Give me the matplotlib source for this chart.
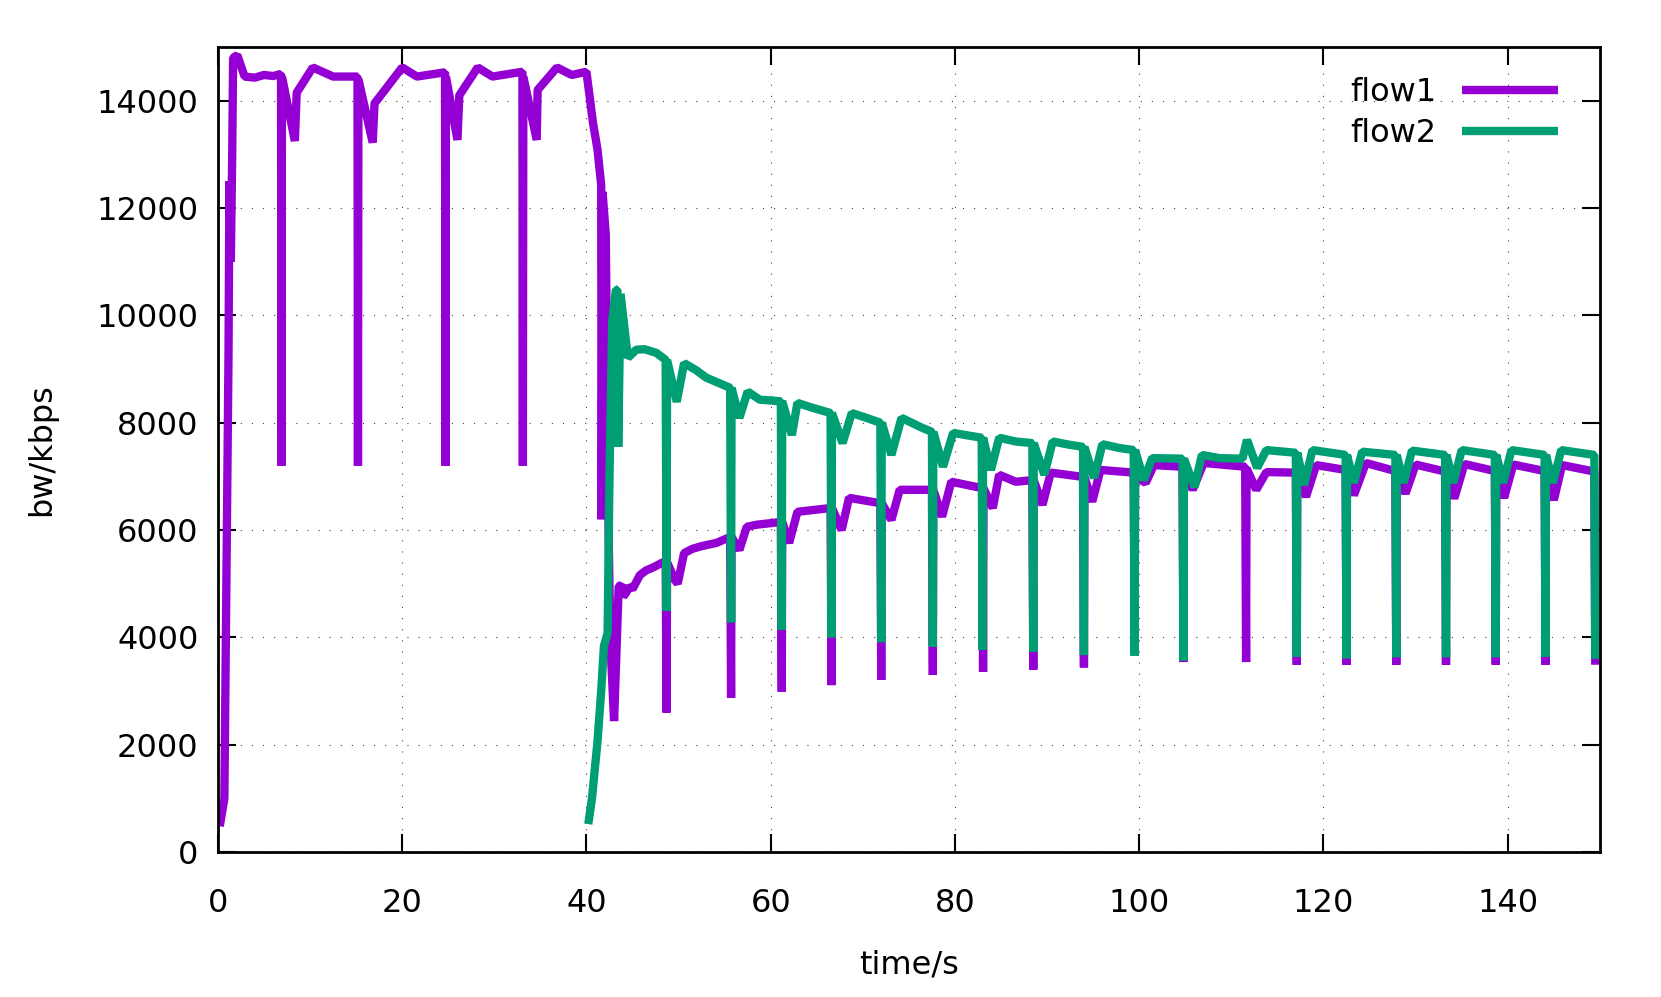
import matplotlib.pyplot as plt
import numpy as np

plt.rcParams["font.family"] = "DejaVu Sans"

# ============================
# data: flow1 (time s, bw kbps)
# ============================
flow1_t = [
    0.2, 0.7, 1.0, 1.15, 1.25, 1.4, 1.55, 1.65, 2.1, 2.9, 4.0, 5.0, 6.0, 6.85,
    6.9, 6.95, 8.35, 8.55, 10.3, 12.5, 15.15,
    15.2, 15.25, 16.8, 17.0, 20.0, 21.6, 24.65,
    24.7, 24.75, 26.0, 26.2, 28.2, 29.8, 33.05,
    33.1, 33.15, 34.6, 34.7, 36.8, 38.4, 40.0,
    40.7, 41.2, 41.6, 41.65, 41.75, 42.1, 42.4, 42.6, 43.0, 43.5, 43.8, 44.0,
    44.3, 44.6, 45.0, 45.8, 46.5, 47.2, 48.2, 48.6,
    48.7, 48.75, 49.6, 49.9, 50.6, 51.5, 52.5, 54.1, 55.6,
    55.7, 55.75, 56.6, 57.4, 58.5, 61.1,
    61.2, 61.25, 62.0, 62.9, 66.5,
    66.6, 66.65, 67.7, 68.5, 71.9,
    72.0, 72.05, 73.1, 74.0, 77.5,
    77.6, 77.65, 78.6, 79.6, 83.0,
    83.05, 83.1, 84.1, 84.8, 86.6, 88.4,
    88.5, 88.55, 89.5, 90.4, 93.9,
    94.0, 94.05, 94.9, 95.8, 99.4,
    99.5, 99.55, 100.7, 101.6, 104.7,
    104.8, 104.85, 105.8, 107.0, 111.5,
    111.6, 111.65, 112.7, 113.8, 117.0,
    117.1, 117.15, 118.1, 119.2, 122.4,
    122.5, 122.55, 123.3, 124.6, 127.8,
    127.9, 127.95, 128.9, 130.0, 133.2,
    133.3, 133.35, 134.2, 135.3, 138.6,
    138.7, 138.75, 139.6, 140.6, 144.0,
    144.1, 144.15, 145.0, 145.9, 149.4,
    149.5,
]
flow1_bw = [
    480, 1000, 6500, 9300, 12500, 11000, 13000, 14800, 14850, 14450, 14430, 14480, 14460, 14500,
    7200, 14450, 13250, 14150, 14620, 14450, 14450,
    7200, 14400, 13220, 13950, 14620, 14450, 14530,
    7200, 14450, 13270, 14100, 14620, 14450, 14540,
    7200, 14450, 13270, 14200, 14620, 14480, 14540,
    13600, 13090, 12430, 6200, 12300, 11500, 6000, 3900, 2440, 4950, 4980, 4760,
    4830, 4950, 4900, 5160, 5250, 5300, 5390, 5420,
    2600, 5400, 5070, 5000, 5570, 5650, 5700, 5760, 5870,
    2870, 5870, 5630, 6060, 6100, 6150,
    2990, 6150, 5760, 6340, 6410,
    3110, 6410, 6000, 6600, 6500,
    3210, 6500, 6190, 6750, 6750,
    3300, 6750, 6250, 6900, 6780,
    3360, 6780, 6410, 7030, 6900, 6930,
    3400, 6930, 6470, 7070, 6990,
    3440, 6990, 6530, 7120, 7070,
    3700, 7000, 6880, 7210, 7180,
    3540, 7180, 6750, 7250, 7180,
    3540, 7150, 6750, 7080, 7070,
    3490, 7070, 6620, 7210, 7120,
    3490, 7120, 6650, 7250, 7100,
    3490, 7100, 6680, 7220, 7090,
    3490, 7090, 6590, 7230, 7100,
    3490, 7100, 6600, 7220, 7100,
    3490, 7100, 6560, 7210, 7090,
    3490,
]

# ============================
# data: flow2 (time s, bw kbps)
# ============================
flow2_t = [
    40.2, 40.6, 41.2, 41.6, 41.9, 42.3, 42.5, 42.8, 43.2, 43.35, 43.45, 43.7,
    44.5, 45.4, 46.3, 47.6, 48.6,
    48.7, 48.75, 49.8, 50.6, 51.9, 53.0, 55.6,
    55.7, 55.75, 56.6, 57.5, 58.8, 61.1,
    61.2, 61.25, 62.3, 62.9, 64.5, 66.5,
    66.6, 66.65, 67.8, 68.8, 70.4, 71.9,
    72.0, 72.05, 73.1, 74.2, 76.5, 77.5,
    77.6, 77.65, 78.7, 79.8, 81.5, 82.9,
    83.0, 83.05, 83.9, 84.8, 86.6, 88.4,
    88.5, 88.55, 89.7, 90.6, 92.4, 93.9,
    94.0, 94.05, 95.1, 96.0, 97.8, 99.4,
    99.5, 99.55, 100.5, 101.4, 104.7,
    104.8, 104.85, 106.0, 106.8, 108.7, 111.2, 111.7, 112.8, 113.8, 117.0,
    117.1, 117.15, 117.9, 118.8, 122.4,
    122.5, 122.55, 123.3, 124.2, 127.8,
    127.9, 127.95, 128.7, 129.6, 133.2,
    133.3, 133.35, 134.1, 135.0, 138.6,
    138.7, 138.75, 139.5, 140.4, 144.0,
    144.1, 144.15, 144.9, 145.8, 149.4,
    149.5,
]
flow2_bw = [
    520, 1000, 2060, 3000, 3840, 4080, 7000, 9900, 10480, 10480, 7550, 10400,
    9210, 9360, 9370, 9300, 9170,
    4500, 9170, 8390, 9110, 8980, 8840, 8650,
    4280, 8650, 8090, 8580, 8430, 8400,
    4140, 8400, 7770, 8370, 8280, 8180,
    4000, 8180, 7620, 8180, 8090, 8000,
    3910, 8000, 7400, 8090, 7900, 7830,
    3830, 7830, 7180, 7810, 7760, 7720,
    3770, 7720, 7120, 7720, 7650, 7620,
    3730, 7620, 7030, 7650, 7590, 7550,
    3670, 7550, 6970, 7600, 7530, 7490,
    3660, 7490, 6930, 7340, 7330,
    3570, 7330, 6800, 7400, 7340, 7330, 7680, 7160, 7490, 7440,
    3640, 7440, 6840, 7490, 7400,
    3610, 7400, 6880, 7460, 7400,
    3630, 7400, 6880, 7480, 7400,
    3630, 7400, 6880, 7490, 7400,
    3630, 7400, 6880, 7490, 7400,
    3640, 7400, 6880, 7490, 7400,
    3600,
]

x_ticks = np.arange(0, 141, 20)
y_ticks = np.arange(0, 14001, 2000)

# ============================
# plot
# ============================
fig = plt.figure(figsize=(16.61, 9.97), dpi=100)
ax = fig.add_axes([0.1312, 0.1454, 0.8320, 0.8074])

ax.plot(flow1_t, flow1_bw, color="#9400D3", lw=6, label="flow1",
        solid_joinstyle="bevel", solid_capstyle="butt")
ax.plot(flow2_t, flow2_bw, color="#009E73", lw=6, label="flow2",
        solid_joinstyle="bevel", solid_capstyle="butt")

ax.set_xlim(0, 150)
ax.set_ylim(0, 15000)
ax.set_xticks(x_ticks)
ax.set_yticks(y_ticks)

ax.grid(True, color="#444444", linestyle=(0, (1, 9)), linewidth=0.8)
ax.tick_params(direction="in", length=13, width=1.5, top=True, right=True,
               labelsize=23)
ax.tick_params(axis="x", pad=26)
ax.tick_params(axis="y", pad=14)
for s in ax.spines.values():
    s.set_linewidth(2)

ax.set_xlabel("time/s", fontsize=23, labelpad=22)
ax.set_ylabel("bw/kbps", fontsize=23, labelpad=28)

ax.legend(loc="upper right", frameon=False, markerfirst=False, fontsize=23,
          handlelength=3.0, handletextpad=0.8, labelspacing=0.3,
          borderaxespad=0.6, bbox_to_anchor=(0.993, 1.002))

fig.savefig("out.png", dpi=100)
